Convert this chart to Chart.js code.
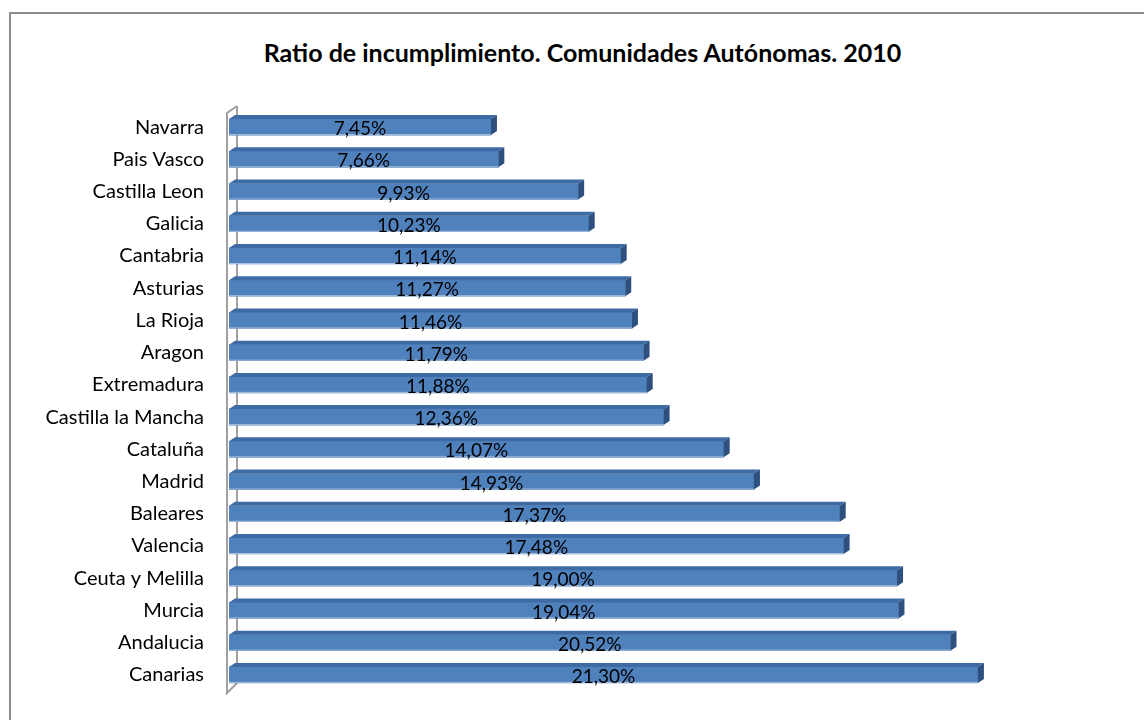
<!DOCTYPE html>
<html>
<head>
<meta charset="utf-8">
<script src="https://cdn.jsdelivr.net/npm/chart.js@4"></script>
<style>
  body { margin: 0; background: #fff; }
  #frame { position: absolute; left: 9px; top: 12px; width: 1140px; height: 720px; border: 2px solid #8c8c8c; box-sizing: border-box; }
  #title { position: absolute; left: 0; width: 1165px; top: 37px; line-height: 29px; text-align: center; font: bold 25px Lato, sans-serif; color: #000; }
  #wrap { position: absolute; left: 0; top: 0; width: 1144px; height: 720px; }
</style>
</head>
<body>
<div id="frame"></div>
<div id="title">Ratio de incumplimiento. Comunidades Autónomas. 2010</div>
<div id="wrap"><canvas id="chart"></canvas></div>
<script>
const regions = ['Navarra', 'Pais Vasco', 'Castilla Leon', 'Galicia', 'Cantabria', 'Asturias', 'La Rioja', 'Aragon',
  'Extremadura', 'Castilla la Mancha', 'Cataluña', 'Madrid', 'Baleares', 'Valencia', 'Ceuta y Melilla', 'Murcia',
  'Andalucia', 'Canarias'];
const ratios = [7.45, 7.66, 9.93, 10.23, 11.14, 11.27, 11.46, 11.79, 11.88, 12.36, 14.07, 14.93, 17.37, 17.48, 19.00,
  19.04, 20.52, 21.30];
const axisMax = 25;

const depthX = 6;
const depthY = 4;

// wall line on the left, like the excel 3d chart
const wallPlugin = {
  id: 'wall',
  beforeDatasetsDraw(chart) {
    const ctx = chart.ctx;
    const area = chart.chartArea;
    const x = area.left - 2;
    ctx.save();
    ctx.strokeStyle = '#a0a0a0';
    ctx.lineWidth = 2;
    ctx.beginPath();
    ctx.moveTo(x + depthX + 4, area.top - 5);
    ctx.lineTo(x + depthX + 4, area.bottom - 8);
    ctx.lineTo(x, area.bottom + 2);
    ctx.lineTo(x, area.top + 2);
    ctx.lineTo(x + depthX + 4, area.top - 5);
    ctx.stroke();
    ctx.restore();
  }
};

// top and side faces for each bar, then the value text
const bar3dPlugin = {
  id: 'bar3d',
  afterDatasetsDraw(chart) {
    const ctx = chart.ctx;
    const meta = chart.getDatasetMeta(0);
    ctx.save();
    meta.data.forEach(function (bar, i) {
      const p = bar.getProps(['x', 'y', 'base', 'height'], true);
      const top = p.y - p.height / 2;
      const bottom = p.y + p.height / 2;
      ctx.fillStyle = '#3f6ba4';
      ctx.beginPath();
      ctx.moveTo(p.base, top);
      ctx.lineTo(p.base + depthX, top - depthY);
      ctx.lineTo(p.x + depthX, top - depthY);
      ctx.lineTo(p.x, top);
      ctx.closePath();
      ctx.fill();
      ctx.fillStyle = '#2e507f';
      ctx.beginPath();
      ctx.moveTo(p.x, top);
      ctx.lineTo(p.x + depthX, top - depthY);
      ctx.lineTo(p.x + depthX, bottom - depthY);
      ctx.lineTo(p.x, bottom);
      ctx.closePath();
      ctx.fill();
      ctx.fillStyle = '#a9bfdc';
      ctx.fillRect(p.base, bottom - 1, p.x - p.base, 1);
      ctx.fillStyle = '#000';
      ctx.font = '19px Lato, sans-serif';
      ctx.textAlign = 'center';
      ctx.textBaseline = 'middle';
      ctx.fillText(ratios[i].toFixed(2).replace('.', ',') + '%', (p.base + p.x) / 2, p.y + 2);
    });
    ctx.restore();
  }
};

const ctx = document.getElementById('chart');
new Chart(ctx, {
  type: 'bar',
  data: {
    labels: regions,
    datasets: [{
      data: ratios,
      backgroundColor: '#4f81bd',
      borderWidth: 0,
      barThickness: 16
    }]
  },
  options: {
    indexAxis: 'y',
    responsive: true,
    maintainAspectRatio: false,
    animation: false,
    layout: { padding: { top: 111, bottom: 29, left: 0, right: 36 } },
    plugins: {
      legend: { display: false },
      tooltip: { enabled: false }
    },
    scales: {
      x: { display: false, min: 0, max: axisMax },
      y: {
        grid: { display: false, drawTicks: false },
        border: { display: false },
        ticks: { color: '#000', padding: 25, font: { family: 'Lato', size: 20 } },
        afterFit(scale) {
          scale.width = 229;
          scale.paddingTop = 0;
          scale.paddingBottom = 0;
        }
      }
    }
  },
  plugins: [wallPlugin, bar3dPlugin]
});
</script>
</body>
</html>
